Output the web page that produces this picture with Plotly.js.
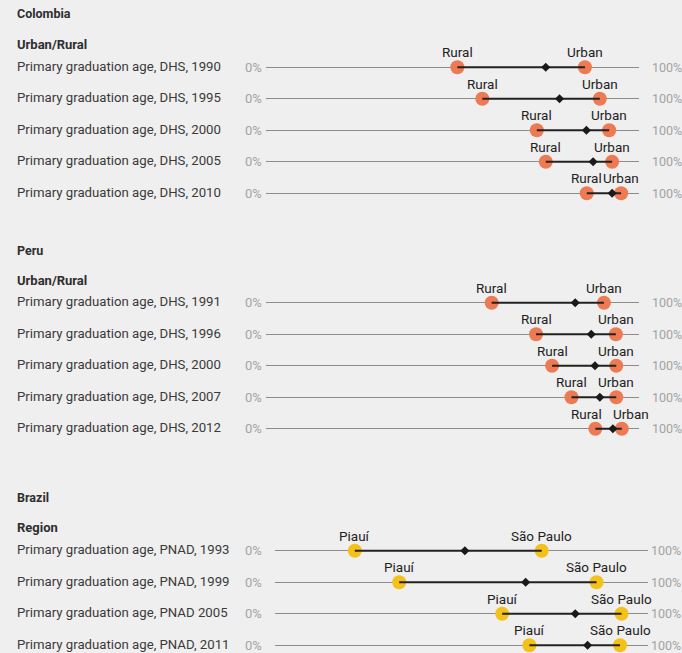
<!DOCTYPE html>
<html>
<head>
<meta charset="utf-8">
<script src="https://cdn.plot.ly/plotly-3.0.1.min.js"></script>
<style>html,body{margin:0;padding:0;background:#efefef;}#chart{width:682px;height:653px;}</style>
</head>
<body>
<div id="chart"></div>
<script>
// ---- Data ----
const colRows = ['Primary graduation age, DHS, 1990','Primary graduation age, DHS, 1995','Primary graduation age, DHS, 2000','Primary graduation age, DHS, 2005','Primary graduation age, DHS, 2010'];
const colRural = [51.3, 58.0, 72.6, 75.0, 86.0];
const colUrban = [85.5, 89.5, 92.0, 92.8, 95.2];
const colMean  = [75.0, 78.7, 85.9, 87.7, 92.8];

const peruRows = ['Primary graduation age, DHS, 1991','Primary graduation age, DHS, 1996','Primary graduation age, DHS, 2000','Primary graduation age, DHS, 2007','Primary graduation age, DHS, 2012'];
const peruRural = [60.5, 72.4, 76.7, 81.9, 88.3];
const peruUrban = [90.6, 93.8, 93.9, 93.9, 95.4];
const peruMean  = [82.9, 87.2, 88.2, 89.5, 93.0];

const brRows = ['Primary graduation age, PNAD, 1993','Primary graduation age, PNAD, 1999','Primary graduation age, PNAD 2005','Primary graduation age, PNAD, 2011'];
const brPiaui = [21.4, 33.3, 60.9, 68.2];
const brSaoPaulo = [71.5, 86.2, 92.9, 92.5];
const brMean = [50.9, 67.2, 80.5, 83.8];

const sections = [
  {country:'Colombia', group:'Urban/Rural', rows:colRows, low:colRural, high:colUrban, mean:colMean, lowName:'Rural', highName:'Urban', color:'#ed7a53', xa:'x', ya:'y'},
  {country:'Peru', group:'Urban/Rural', rows:peruRows, low:peruRural, high:peruUrban, mean:peruMean, lowName:'Rural', highName:'Urban', color:'#ed7a53', xa:'x', ya:'y2'},
  {country:'Brazil', group:'Region', rows:brRows, low:brPiaui, high:brSaoPaulo, mean:brMean, lowName:'Piauí', highName:'São Paulo', color:'#f3c118', xa:'x2', ya:'y3'}
];

// ---- Layout geometry (pixels) ----
const W = 682, H = 653;
const FONT = 'Roboto, sans-serif';
const STEP = 31.5;
const geo = [
  {row0: 67.3, n: 5, countryY: 14, groupY: 44.5, zeroX: 264, hundredX: 650, x0: 266, x1: 639},
  {row0: 302.7, n: 5, countryY: 250, groupY: 280.7, zeroX: 264, hundredX: 650, x0: 266, x1: 639},
  {row0: 550.7, n: 4, countryY: 497.3, groupY: 527.3, zeroX: 264, hundredX: 649, x0: 275, x1: 648}
];

const traces = [];
const annotations = [];
const layout = {
  width: W, height: H,
  margin: {l: 0, r: 0, t: 0, b: 0},
  paper_bgcolor: '#efefef', plot_bgcolor: 'rgba(0,0,0,0)',
  showlegend: false, hovermode: false,
  font: {family: FONT, size: 13, color: '#333'},
  xaxis: {domain: [geo[0].x0 / W, geo[0].x1 / W], range: [0, 100], visible: false, fixedrange: true},
  xaxis2: {domain: [geo[2].x0 / W, geo[2].x1 / W], range: [0, 100], visible: false, fixedrange: true, anchor: 'y3'},
  annotations: annotations
};

sections.forEach((s, k) => {
  const g = geo[k];
  const axName = k === 0 ? 'yaxis' : 'yaxis' + (k + 1);
  const top = g.row0 - STEP / 2;
  let bottom = top + g.n * STEP;
  let rangeBottom = g.n - 0.5;
  if (bottom > H) { rangeBottom = -0.5 + (H - top) / STEP; bottom = H; }
  layout[axName] = {
    type: 'category', categoryorder: 'array', categoryarray: s.rows,
    domain: [1 - bottom / H, 1 - top / H],
    range: [rangeBottom, -0.5],
    anchor: s.xa,
    showgrid: true, gridcolor: '#8c8c8c', gridwidth: 1,
    zeroline: false, showline: false, showticklabels: false, ticks: '',
    fixedrange: true
  };

  const lx = [], ly = [];
  s.rows.forEach((r, i) => { lx.push(s.low[i], s.high[i], null); ly.push(r, r, null); });

  traces.push({
    type: 'scatter', mode: 'markers', xaxis: s.xa, yaxis: s.ya,
    x: s.low.concat(s.high), y: s.rows.concat(s.rows),
    marker: {size: 14, color: s.color, line: {width: 0}}, cliponaxis: false
  });
  traces.push({
    type: 'scatter', mode: 'lines', xaxis: s.xa, yaxis: s.ya,
    x: lx, y: ly, line: {color: '#222', width: 2}, cliponaxis: false
  });
  traces.push({
    type: 'scatter', mode: 'markers', xaxis: s.xa, yaxis: s.ya,
    x: s.mean, y: s.rows, marker: {symbol: 'diamond', size: 7, color: '#1a1a1a'}, cliponaxis: false
  });

  const yref = s.ya;
  const pxPerUnit = (g.x1 - g.x0) / 100;
  annotations.push({xref: 'paper', yref: 'paper', x: 15 / W, y: 1 - g.countryY / H, xanchor: 'left', yanchor: 'middle',
    text: '<b>' + s.country + '</b>', showarrow: false, font: {family: FONT, size: 12.5, color: '#2e2e2e'}});
  annotations.push({xref: 'paper', yref: 'paper', x: 15 / W, y: 1 - g.groupY / H, xanchor: 'left', yanchor: 'middle',
    text: '<b>' + s.group + '</b>', showarrow: false, font: {family: FONT, size: 13, color: '#2e2e2e'}});
  s.rows.forEach((r, i) => {
    // point labels, spread apart when the two points are very close
    const gap = (s.high[i] - s.low[i]) * pxPerUnit;
    const spread = gap < 30 ? (44 - gap) / 2 : 0;
    annotations.push({xref: s.xa, yref: yref, x: s.low[i], y: i, xanchor: 'center', yanchor: 'middle',
      yshift: 15, xshift: -spread, text: s.lowName, showarrow: false, font: {family: FONT, size: 13.5, color: '#222'}});
    annotations.push({xref: s.xa, yref: yref, x: s.high[i], y: i, xanchor: 'center', yanchor: 'middle',
      yshift: 15, xshift: spread, text: s.highName, showarrow: false, font: {family: FONT, size: 13.5, color: '#222'}});

    annotations.push({xref: 'paper', yref: yref, x: 15 / W, y: i, xanchor: 'left', yanchor: 'middle',
      text: r, showarrow: false, font: {family: FONT, size: 13.2, color: '#3a3a3a'}, yshift: 1});
    annotations.push({xref: 'paper', yref: yref, x: g.zeroX / W, y: i, xanchor: 'right', yanchor: 'middle',
      text: '0%', showarrow: false, font: {family: FONT, size: 13, color: '#a3a3a3'}});
    annotations.push({xref: 'paper', yref: yref, x: g.hundredX / W, y: i, xanchor: 'left', yanchor: 'middle',
      text: '100%', showarrow: false, font: {family: FONT, size: 12.5, color: '#a3a3a3'}});
  });
});

Plotly.newPlot('chart', traces, layout, {displayModeBar: false, staticPlot: true});
</script>
</body>
</html>
